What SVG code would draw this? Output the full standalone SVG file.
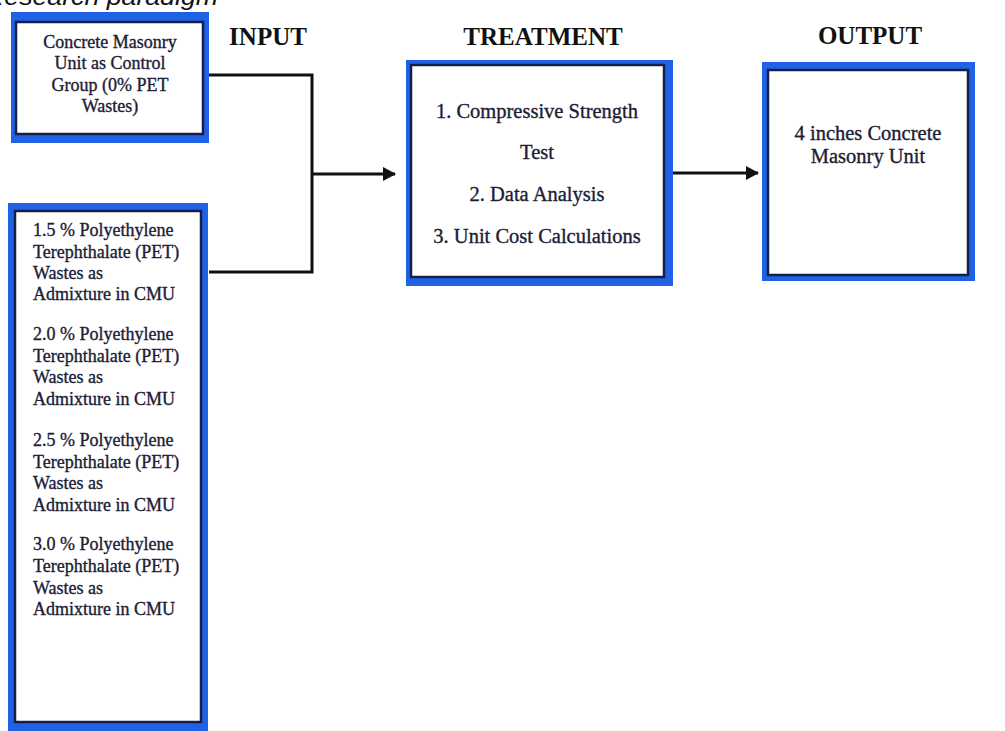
<svg xmlns="http://www.w3.org/2000/svg" width="1005" height="731" viewBox="0 0 1005 731">
  <defs>
    <style>
      .outer { fill: #2062e6; }
      .inner { fill: #ffffff; stroke: #14204a; stroke-width: 2.5; }
      .t { font-family: "Liberation Serif", "Times New Roman", serif; fill: #1c1c36; stroke: #1c1c36; stroke-width: 0.35; }
      .s18 { font-size: 18px; }
      .s20 { font-size: 20.5px; }
      .head { font-family: "Liberation Serif", "Times New Roman", serif; font-weight: bold; font-size: 25px; fill: #111; text-anchor: middle; }
      .cap { font-family: "Liberation Sans", Arial, sans-serif; font-style: italic; font-size: 23px; fill: #111; }
      .conn { fill: none; stroke: #111; stroke-width: 3; }
    </style>
    <marker id="arrow" markerWidth="14" markerHeight="14" refX="12" refY="7" orient="auto" markerUnits="userSpaceOnUse">
      <path d="M0,0 L13,7 L0,14 Z" fill="#111"/>
    </marker>
  </defs>
  <rect width="1005" height="731" fill="#ffffff"/>

  <text class="cap" x="-15" y="5" textLength="233" lengthAdjust="spacingAndGlyphs">Research paradigm</text>

  <g id="headings">
    <text class="head" x="268" y="45">INPUT</text>
    <text class="head" x="543" y="45">TREATMENT</text>
    <text class="head" x="870" y="44">OUTPUT</text>
  </g>

  <g id="connectors">
    <polyline class="conn" points="209,75 312,75 312,272 209,272"/>
    <line class="conn" x1="312" y1="174" x2="395" y2="174" marker-end="url(#arrow)"/>
    <line class="conn" x1="673" y1="173" x2="758" y2="173" marker-end="url(#arrow)"/>
  </g>

  <g id="control-box">
    <rect class="outer" x="11" y="12" width="198" height="131"/>
    <rect class="inner" x="16" y="22" width="187" height="112"/>
    <g class="t s18" text-anchor="middle">
      <text x="110" y="48">Concrete Masonry</text>
      <text x="110" y="69">Unit as Control</text>
      <text x="110" y="91">Group (0% PET</text>
      <text x="110" y="112">Wastes)</text>
    </g>
  </g>

  <g id="pet-box">
    <rect class="outer" x="8" y="203" width="200" height="540"/>
    <rect class="inner" x="15" y="211" width="186" height="511"/>
    <g class="t s18">
      <text x="33" y="236">1.5 % Polyethylene</text>
      <text x="33" y="258">Terephthalate (PET)</text>
      <text x="33" y="279">Wastes as</text>
      <text x="33" y="300">Admixture in CMU</text>
      <text x="33" y="340">2.0 % Polyethylene</text>
      <text x="33" y="362">Terephthalate (PET)</text>
      <text x="33" y="383">Wastes as</text>
      <text x="33" y="405">Admixture in CMU</text>
      <text x="33" y="446">2.5 % Polyethylene</text>
      <text x="33" y="468">Terephthalate (PET)</text>
      <text x="33" y="489">Wastes as</text>
      <text x="33" y="511">Admixture in CMU</text>
      <text x="33" y="550">3.0 % Polyethylene</text>
      <text x="33" y="572">Terephthalate (PET)</text>
      <text x="33" y="594">Wastes as</text>
      <text x="33" y="615">Admixture in CMU</text>
    </g>
  </g>

  <g id="treatment-box">
    <rect class="outer" x="406" y="60" width="267" height="226"/>
    <rect class="inner" x="411" y="65" width="253" height="212"/>
    <g class="t s20" text-anchor="middle">
      <text x="537" y="118">1. Compressive Strength</text>
      <text x="537" y="159">Test</text>
      <text x="537" y="201">2. Data Analysis</text>
      <text x="537" y="243">3. Unit Cost Calculations</text>
    </g>
  </g>

  <g id="output-box">
    <rect class="outer" x="762" y="62" width="213" height="219"/>
    <rect class="inner" x="768" y="70" width="200" height="205"/>
    <g class="t s20" text-anchor="middle">
      <text x="868" y="140">4 inches Concrete</text>
      <text x="868" y="163">Masonry Unit</text>
    </g>
  </g>
</svg>
